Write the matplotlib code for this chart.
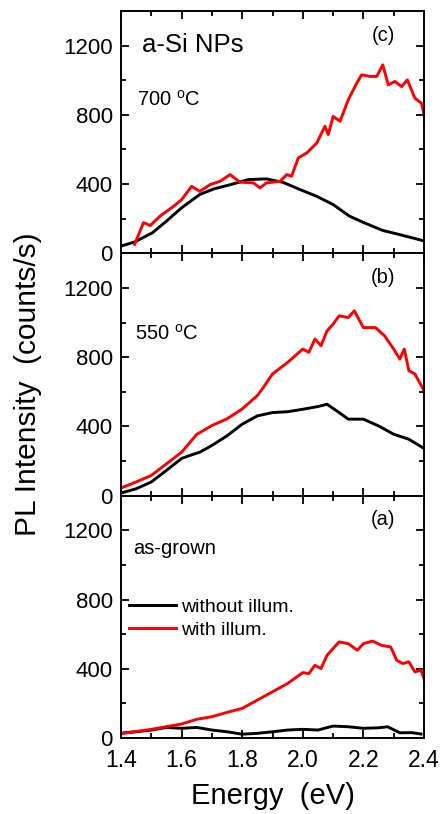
import numpy as np
import matplotlib
matplotlib.use('Agg')
import matplotlib.pyplot as plt
from matplotlib.ticker import MultipleLocator

plt.rcParams['font.family'] = ['Liberation Sans', 'DejaVu Sans']
plt.rcParams['mathtext.fontset'] = 'custom'
plt.rcParams['mathtext.rm'] = 'Liberation Sans'

# 700 C, without illumination (black)
e_c_dark = [1.40, 1.444, 1.504, 1.55, 1.60, 1.66, 1.706, 1.77, 1.82, 1.88, 1.935,
            1.99, 2.045, 2.10, 2.154, 2.198, 2.264, 2.318, 2.40]
i_c_dark = [42, 65, 119, 186, 263, 340, 372, 401, 426, 430, 410,
            369, 330, 282, 215, 180, 132, 109, 72]
# 700 C, with illumination (red)
e_c_ill = [1.445, 1.474, 1.485, 1.496, 1.529, 1.573, 1.60, 1.633, 1.66, 1.694, 1.727,
           1.76, 1.793, 1.837, 1.859, 1.88, 1.925, 1.947, 1.963, 1.985, 2.013,
           2.046, 2.073, 2.084, 2.10, 2.123, 2.15, 2.178, 2.194, 2.222, 2.244,
           2.264, 2.282, 2.304, 2.326, 2.345, 2.37, 2.392, 2.40]
i_c_ill = [52, 177, 170, 160, 215, 271, 310, 387, 358, 397, 416,
           455, 411, 407, 378, 407, 416, 455, 445, 551, 580,
           637, 734, 686, 791, 763, 887, 983, 1031, 1022, 1022,
           1089, 973, 993, 963, 1002, 896, 867, 800]

# 550 C
e_b_dark = [1.40, 1.45, 1.50, 1.55, 1.60, 1.64, 1.66, 1.70, 1.75, 1.80, 1.85,
            1.90, 1.95, 2.00, 2.05, 2.08, 2.12, 2.15, 2.20, 2.25, 2.30, 2.35, 2.40]
i_b_dark = [15, 40, 79, 146, 215, 240, 251, 290, 346, 413, 461,
            480, 485, 499, 515, 528, 480, 442, 442, 403, 355, 326, 273]
e_b_ill = [1.40, 1.45, 1.50, 1.55, 1.60, 1.65, 1.70, 1.75, 1.80, 1.85, 1.87,
           1.90, 1.95, 2.00, 2.02, 2.04, 2.06, 2.08, 2.10, 2.12, 2.15, 2.17,
           2.20, 2.24, 2.27, 2.30, 2.32, 2.335, 2.35, 2.37, 2.40]
i_b_ill = [44, 79, 117, 184, 251, 354, 405, 444, 501, 578, 626,
           703, 770, 847, 828, 905, 866, 952, 991, 1039, 1029, 1068,
           971, 971, 923, 847, 789, 847, 722, 703, 607]

# as-grown
e_a_dark = [1.41, 1.45, 1.50, 1.55, 1.60, 1.65, 1.70, 1.75, 1.80, 1.85, 1.90,
            1.95, 2.00, 2.05, 2.10, 2.15, 2.20, 2.25, 2.28, 2.32, 2.36, 2.39]
i_a_dark = [30, 36, 46, 61, 56, 61, 46, 36, 22, 27, 36,
            46, 50, 46, 69, 65, 56, 59, 65, 30, 31, 23]
e_a_ill = [1.40, 1.50, 1.60, 1.65, 1.70, 1.75, 1.80, 1.85, 1.90, 1.95, 2.00,
           2.02, 2.04, 2.06, 2.08, 2.10, 2.12, 2.15, 2.18, 2.20, 2.23, 2.26,
           2.29, 2.31, 2.33, 2.35, 2.37, 2.39, 2.40]
i_a_ill = [25, 50, 81, 108, 123, 148, 171, 219, 267, 315, 378,
           372, 420, 401, 478, 517, 555, 545, 507, 545, 560, 535,
           526, 449, 430, 440, 382, 392, 344]

panels = [
    (e_c_dark, i_c_dark, e_c_ill, i_c_ill, '(c)', '700 $^{\\mathrm{o}}$C'),
    (e_b_dark, i_b_dark, e_b_ill, i_b_ill, '(b)', '550 $^{\\mathrm{o}}$C'),
    (e_a_dark, i_a_dark, e_a_ill, i_a_ill, '(a)', 'as-grown'),
]

fig = plt.figure(figsize=(4.4, 8.14), dpi=100)
left, width = 121 / 440, 303 / 440
top, bottom = 1 - 11 / 814, 1 - 738 / 814
h = (top - bottom) / 3

axes = []
for k, (ed, idk, ei, iil, tag, cond) in enumerate(panels):
    ax = fig.add_axes([left, top - (k + 1) * h, width, h])
    axes.append(ax)
    ax.plot(ed, idk, color='black', lw=2.1, label='without illum.')
    ax.plot(ei, iil, color='red', lw=2.1, label='with illum.')
    ax.set_xlim(1.4, 2.4)
    ax.set_ylim(0, 1400)
    ax.yaxis.set_major_locator(MultipleLocator(400))
    ax.yaxis.set_minor_locator(MultipleLocator(200))
    ax.xaxis.set_major_locator(MultipleLocator(0.2))
    ax.xaxis.set_minor_locator(MultipleLocator(0.1))
    ax.tick_params(which='both', direction='in', top=True, right=True, width=1.3,
                   labelsize=16)
    ax.tick_params(which='major', length=6, pad=6)
    ax.tick_params(which='minor', length=3.5)
    for s in ax.spines.values():
        s.set_linewidth(1.4)
    ax.set_yticks([0, 400, 800, 1200])
    ax.text(0.865, 0.90, tag, transform=ax.transAxes,
            fontsize=14.5, ha='center', va='center')
    if k < 2:
        ax.tick_params(axis='x', labelbottom=False)

axes[0].text(0.07, 0.86, 'a-Si NPs', transform=axes[0].transAxes, fontsize=18.5,
             va='center')
axes[0].text(0.052, 0.635, panels[0][5], transform=axes[0].transAxes, fontsize=14.5,
             va='center')
axes[1].text(0.045, 0.67, panels[1][5], transform=axes[1].transAxes, fontsize=14.5,
             va='center')
axes[2].text(0.04, 0.78, panels[2][5], transform=axes[2].transAxes, fontsize=14.5,
             va='center')
axes[2].legend(loc='upper left', bbox_to_anchor=(-0.03, 0.65), frameon=False,
               fontsize=14, handlelength=2.4, handletextpad=0.28, labelspacing=0.3)
axes[2].tick_params(axis='x', pad=8)
axes[2].set_xticks([1.4, 1.6, 1.8, 2.0, 2.2, 2.4])
axes[2].set_xticklabels(['1.4', '1.6', '1.8', '2.0', '2.2', '2.4'], fontsize=16.5)

fig.text(0.064, 1 - 384 / 814, 'PL Intensity  (counts/s)', rotation=90,
         fontsize=21.5, ha='center', va='center')
fig.text(left + width / 2, 0.022, 'Energy  (eV)', fontsize=21, ha='center',
         va='center')

fig.savefig('out.png', dpi=100)
